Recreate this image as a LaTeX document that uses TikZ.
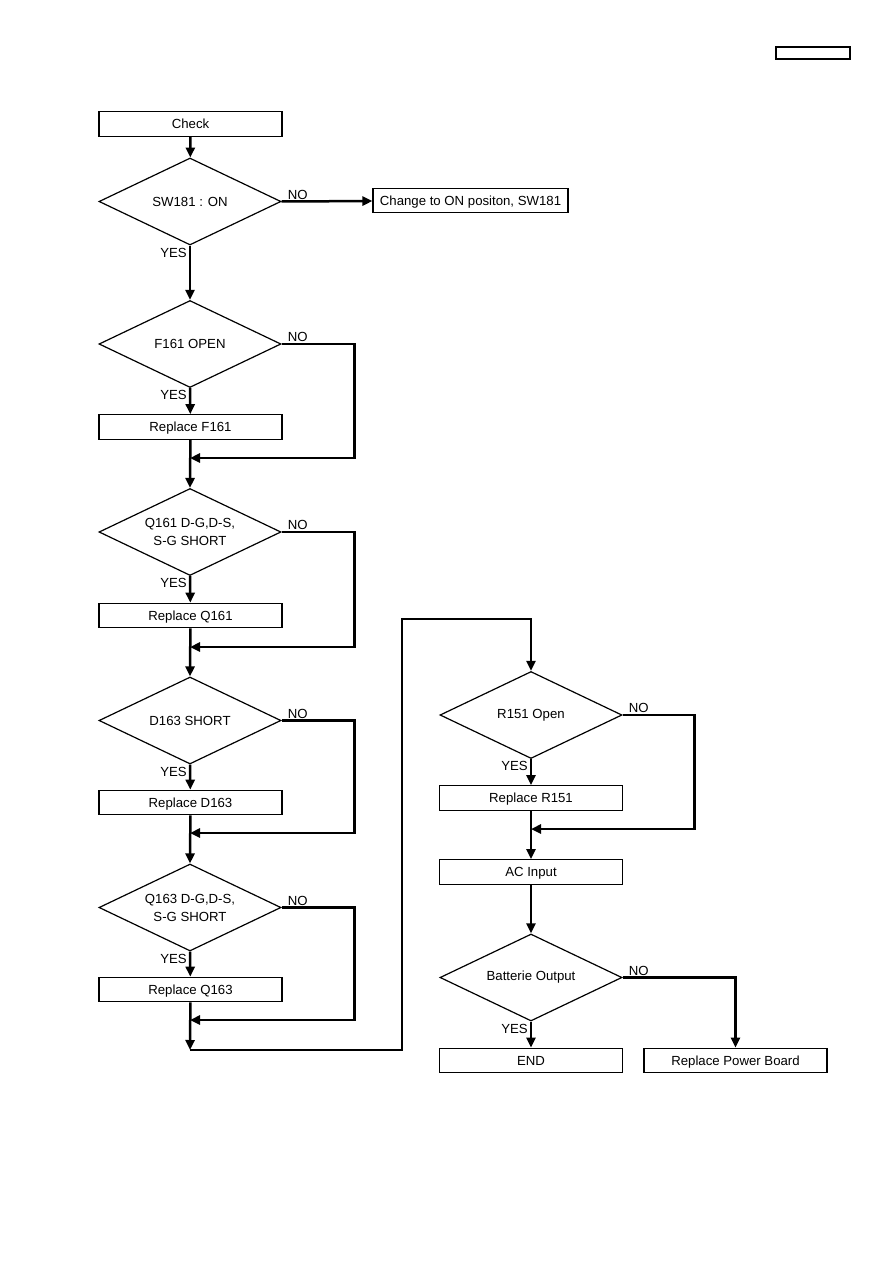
\documentclass[tikz,border=0pt]{standalone}
\usepackage{fontspec}
\setmainfont{Liberation Sans}
\usetikzlibrary{arrows.meta,shapes.geometric}
\tikzset{
  box/.style={draw,line width=1.2pt,fill=white,align=center,minimum width=183pt,minimum height=24.5pt,inner sep=2pt,text height=11pt,text depth=2pt},
  dia/.style={draw,line width=1.2pt,diamond,shape aspect=2.1,align=center,minimum width=182pt,minimum height=87pt,inner sep=0pt},
  arr/.style={-{Triangle[length=10pt,width=9pt]},line width=2.5pt},
  lbl/.style={inner sep=1pt}}

\begin{document}
\begin{tikzpicture}[x=1pt,y=-1pt,font=\fontsize{13.2}{18}\selectfont]
\useasboundingbox (0,0) rectangle (893,1263);
% header
\node[draw,line width=1.2pt,minimum width=74pt,minimum height=12pt,inner sep=0pt] (hdr) at (813,53) {};
% left column
\node[box] (chk) at (190.5,124) {Check};
\node[dia] (sw) at (190,201.5) {SW181 : ON};
\node[box,minimum width=195pt] (chg) at (470.5,200.5) {Change to ON positon, SW181};
\node[dia] (f161) at (190,344) {F161 OPEN};
\node[box] (rf161) at (190.5,427) {Replace F161};
\node[dia] (q161) at (190,532) {Q161 D-G,D-S,\\S-G SHORT};
\node[box] (rq161) at (190.5,615.5) {Replace Q161};
\node[dia] (d163) at (190,720.5) {D163 SHORT};
\node[box] (rd163) at (190.5,802.5) {Replace D163};
\node[dia] (q163) at (190,907.5) {Q163 D-G,D-S,\\S-G SHORT};
\node[box] (rq163) at (190.5,989.5) {Replace Q163};
% right column
\node[dia] (r151) at (531,715) {R151 Open};
\node[box] (rr151) at (531,798) {Replace R151};
\node[box] (ac) at (531,872) {AC Input};
\node[dia] (bat) at (531,977.5) {Batterie Output};
\node[box] (endb) at (531,1060.5) {END};
\node[box] (rpb) at (735.5,1060.5) {Replace Power Board};
% junctions
\coordinate (j1) at (190,458);
\coordinate (j2) at (190,647);
\coordinate (j3) at (190,833);
\coordinate (j4) at (190,1020);
\coordinate (j5) at (190,1050);
\coordinate (t1) at (402,619);
\coordinate (j6) at (531,829);
% connectors
\draw[arr] (chk) -- (sw);
\draw[arr] (sw.east) node[lbl,anchor=south west,xshift=4pt]{NO} -- (chg);
\draw[arr] (sw.south) node[lbl,anchor=north east,xshift=-1pt]{YES} -- (f161.north);
\draw[arr] (f161.south) node[lbl,anchor=north east,xshift=-1pt]{YES} -- (rf161);
\draw[arr] (f161.east) node[lbl,anchor=south west,xshift=4pt]{NO} -- ++(73,0) |- (j1);
\draw[arr] (rf161) -- (q161.north);
\draw[arr] (q161.south) node[lbl,anchor=north east,xshift=-1pt]{YES} -- (rq161);
\draw[arr] (q161.east) node[lbl,anchor=south west,xshift=4pt]{NO} -- ++(73,0) |- (j2);
\draw[arr] (rq161) -- (d163.north);
\draw[arr] (d163.south) node[lbl,anchor=north east,xshift=-1pt]{YES} -- (rd163);
\draw[arr] (d163.east) node[lbl,anchor=south west,xshift=4pt]{NO} -- ++(73,0) |- (j3);
\draw[arr] (rd163) -- (q163.north);
\draw[arr] (q163.south) node[lbl,anchor=north east,xshift=-1pt]{YES} -- (rq163);
\draw[arr] (q163.east) node[lbl,anchor=south west,xshift=4pt]{NO} -- ++(73,0) |- (j4);
\draw[arr] (rq163) -- (j5);
\draw[arr] (j5) -| (t1) -| (r151.north);
\draw[arr] (r151.south) node[lbl,anchor=north east,xshift=-1pt]{YES} -- (rr151);
\draw[arr] (r151.east) node[lbl,anchor=south west,xshift=4pt]{NO} -- ++(72,0) |- (j6);
\draw[arr] (rr151) -- (ac);
\draw[arr] (ac) -- (bat.north);
\draw[arr] (bat.south) node[lbl,anchor=north east,xshift=-1pt]{YES} -- (endb);
\draw[arr] (bat.east) node[lbl,anchor=south west,xshift=4pt]{NO} -| (rpb.north);
\end{tikzpicture}
\end{document}
